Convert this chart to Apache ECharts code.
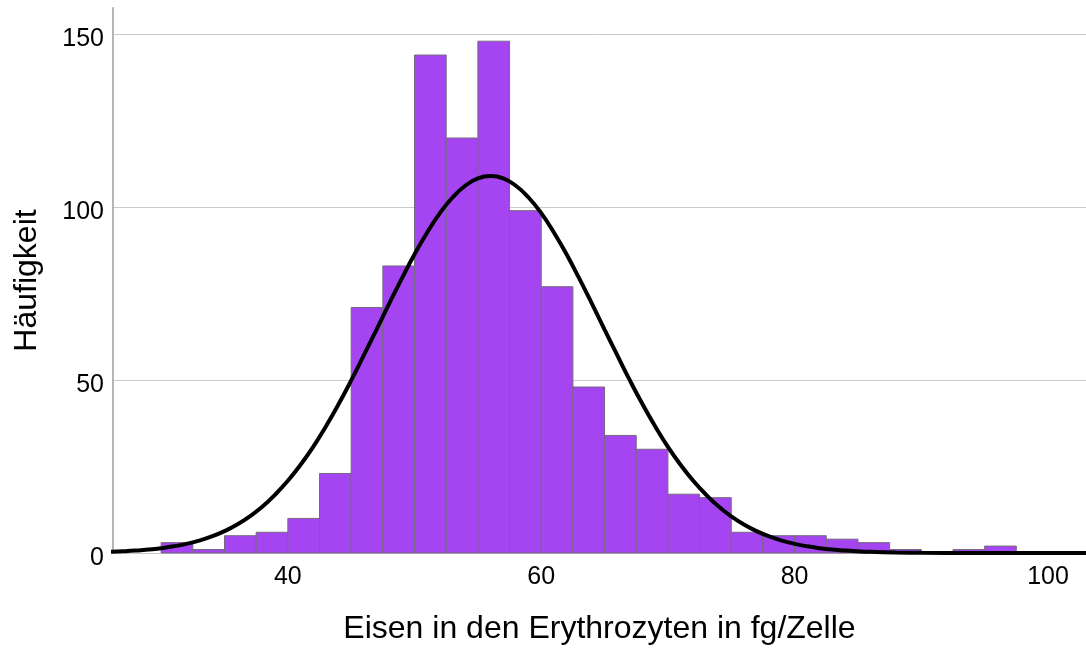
<!DOCTYPE html>
<html>
<head>
<meta charset="utf-8">
<script src="https://cdn.jsdelivr.net/npm/echarts@6/dist/echarts.min.js"></script>
<style>
  html, body { margin: 0; padding: 0; background: #fff; }
  #main { width: 1086px; height: 650px; }
</style>
</head>
<body>
<div id="main"></div>
<script>
// Klassen (Breite 2.5 fg/Zelle): Untergrenzen und Häufigkeiten
var binStarts = [30, 32.5, 35, 37.5, 40, 42.5, 45, 47.5, 50, 52.5, 55, 57.5, 60, 62.5,
                 65, 67.5, 70, 72.5, 75, 77.5, 80, 82.5, 85, 87.5, 90, 92.5, 95];
var binCounts = [3, 1, 5, 6, 10, 23, 71, 83, 144, 120, 148, 99, 77, 48,
                 34, 30, 17, 16, 6, 5, 5, 4, 3, 1, 0, 1, 2];
var binWidth = 2.5;

// Normalverteilungskurve
var curveX = [26, 27, 28, 29, 30, 31, 32, 33, 34, 35, 36, 37, 38, 39, 40, 41, 42, 43, 44, 45,
              46, 47, 48, 49, 50, 51, 52, 53, 54, 55, 56, 57, 58, 59, 60, 61, 62, 63, 64, 65,
              66, 67, 68, 69, 70, 71, 72, 73, 74, 75, 76, 77, 78, 79, 80, 81, 82, 83, 84, 85,
              86, 88, 90, 94, 98, 104];
var curveY = [0.33, 0.48, 0.69, 0.98, 1.39, 1.93, 2.65, 3.58, 4.79, 6.32, 8.24, 10.6, 13.45, 16.9, 20.9, 25.5, 30.7, 36.6, 43.0, 49.9,
              57.2, 64.6, 72.1, 79.4, 86.4, 92.7, 98.3, 102.8, 106.2, 108.3, 109, 108.3, 106.2, 102.8, 98.3, 92.7, 86.4, 79.4, 72.1, 64.6,
              57.2, 49.9, 43.0, 36.6, 30.7, 25.5, 20.9, 16.9, 13.45, 10.6, 8.24, 6.32, 4.79, 3.58, 2.65, 1.93, 1.39, 0.98, 0.69, 0.48,
              0.33, 0.15, 0.06, 0.01, 0, 0];

var xTicks = [40, 60, 80, 100];

var font = '"Liberation Sans", Arial, sans-serif';

var barData = binStarts.map(function (s, i) { return [s, s + binWidth, binCounts[i]]; });
var lineData = curveX.map(function (x, i) { return [x, curveY[i]]; });

var myChart = echarts.init(document.getElementById('main'));
var option = {
    animation: false,
    grid: { left: 113, right: 0, top: 8, bottom: 95 },
    xAxis: {
        type: 'value',
        min: 26.2,
        max: 103,
        name: 'Eisen in den Erythrozyten in fg/Zelle',
        nameLocation: 'middle',
        nameGap: 60,
        nameTextStyle: { fontFamily: font, fontSize: 32, color: '#000' },
        axisLine: { show: false },
        axisTick: { show: false },
        splitLine: { show: false },
        axisLabel: {
            customValues: xTicks,
            fontFamily: font, fontSize: 25, color: '#000', margin: 12
        }
    },
    yAxis: {
        type: 'value',
        min: 0,
        max: 157.6,
        interval: 50,
        name: 'Häufigkeit',
        nameLocation: 'middle',
        nameGap: 70,
        nameTextStyle: { fontFamily: font, fontSize: 32, color: '#000' },
        axisLine: { show: true, lineStyle: { color: '#b4b4b4', width: 2 } },
        axisTick: { show: false },
        splitLine: { show: true, showMaxLine: false, lineStyle: { color: '#cacaca', width: 1 } },
        axisLabel: {
            showMaxLabel: false,
            verticalAlign: 'top',
            lineHeight: 10,
            fontFamily: font, fontSize: 25, color: '#000', margin: 9
        }
    },
    series: [
        {
            type: 'custom',
            data: barData,
            encode: { x: [0, 1], y: 2 },
            renderItem: function (params, api) {
                var p0 = api.coord([api.value(0), api.value(2)]);
                var p1 = api.coord([api.value(1), 0]);
                return {
                    type: 'rect',
                    shape: { x: p0[0], y: p0[1], width: p1[0] - p0[0], height: p1[1] - p0[1] },
                    style: { fill: '#a545f1', stroke: '#76697f', lineWidth: 1 }
                };
            },
            z: 2
        },
        {
            type: 'line',
            data: lineData,
            smooth: true,
            symbol: 'none',
            lineStyle: { color: '#000', width: 4 },
            z: 3
        }
    ]
};
myChart.setOption(option);
</script>
</body>
</html>
